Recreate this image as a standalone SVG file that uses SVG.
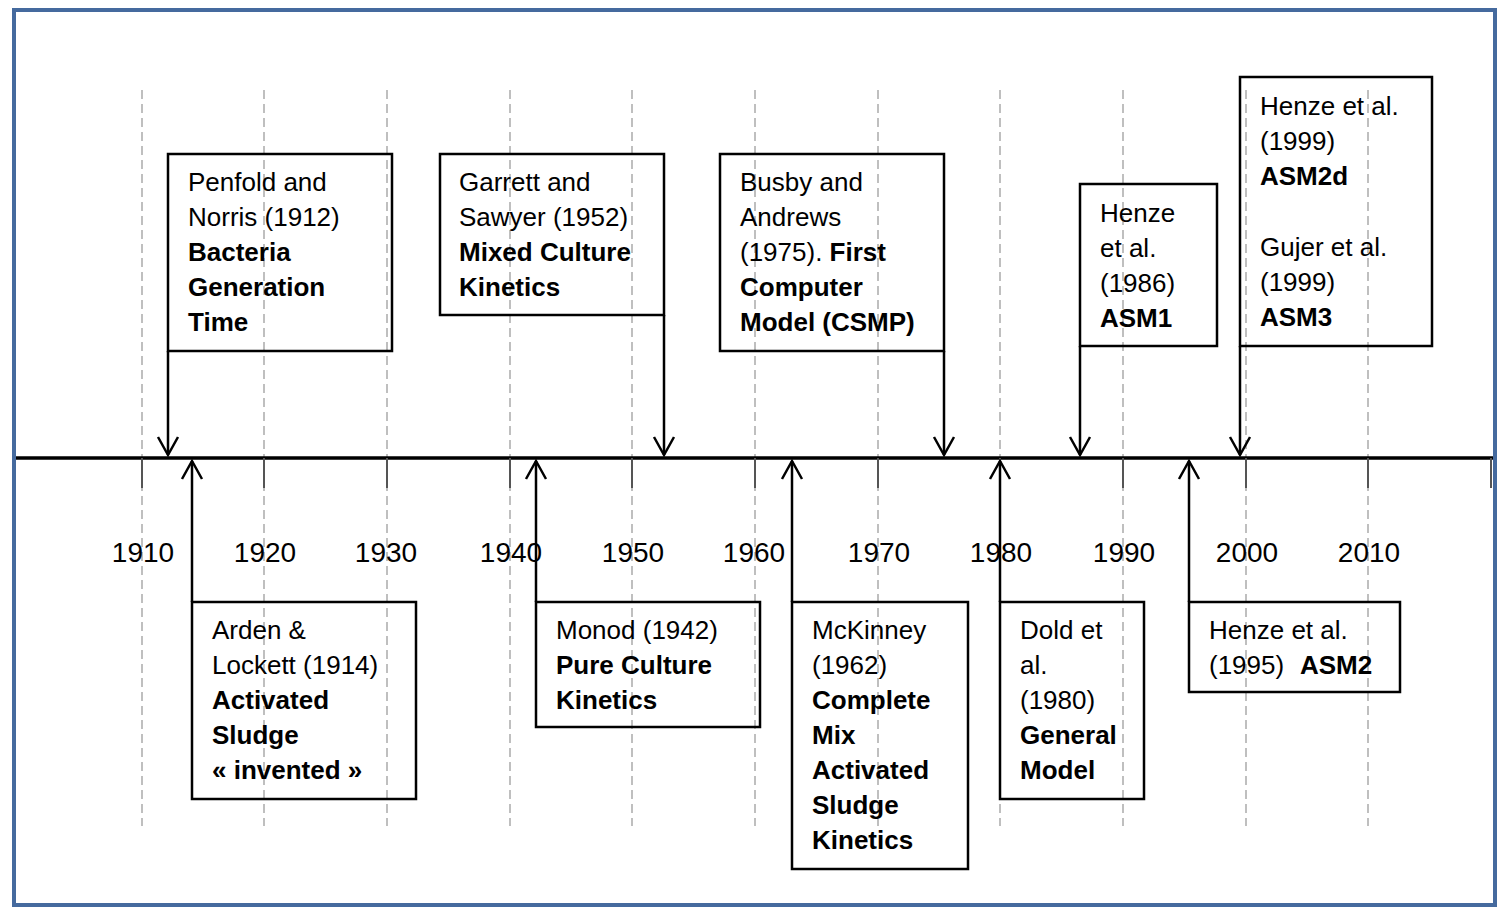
<svg xmlns="http://www.w3.org/2000/svg" width="1499" height="909" viewBox="0 0 1499 909">
<defs>
<style>
.grid{stroke:#bfbfbf;stroke-width:2;stroke-dasharray:9 5;fill:none}
.tick{stroke:#555;stroke-width:2;fill:none}
.box{fill:#fff;stroke:#000;stroke-width:2.5}
.conn{stroke:#000;stroke-width:2.5;fill:none}
.ah{stroke:#000;stroke-width:2.5;fill:none}
text{font-family:"Liberation Sans",Arial,sans-serif;font-size:26px;fill:#000}
.yr{font-size:28px;text-anchor:middle}
.b{font-weight:bold}
</style>
</defs>
<rect x="0" y="0" width="1499" height="909" fill="#fff"/>
<rect x="14" y="10" width="1481" height="895" fill="#fff" stroke="#456a9e" stroke-width="4"/>
<g id="grid">
<line class="grid" x1="142" y1="90" x2="142" y2="826"/>
<line class="grid" x1="264" y1="90" x2="264" y2="826"/>
<line class="grid" x1="387" y1="90" x2="387" y2="826"/>
<line class="grid" x1="510" y1="90" x2="510" y2="826"/>
<line class="grid" x1="632" y1="90" x2="632" y2="826"/>
<line class="grid" x1="755" y1="90" x2="755" y2="826"/>
<line class="grid" x1="878" y1="90" x2="878" y2="826"/>
<line class="grid" x1="1000" y1="90" x2="1000" y2="826"/>
<line class="grid" x1="1123" y1="90" x2="1123" y2="826"/>
<line class="grid" x1="1246" y1="90" x2="1246" y2="826"/>
<line class="grid" x1="1368" y1="90" x2="1368" y2="826"/>
</g>
<g id="axis">
<line x1="16" y1="458" x2="1493" y2="458" stroke="#000" stroke-width="3.5"/>
<line class="tick" x1="142" y1="458" x2="142" y2="488"/>
<line class="tick" x1="264" y1="458" x2="264" y2="488"/>
<line class="tick" x1="387" y1="458" x2="387" y2="488"/>
<line class="tick" x1="510" y1="458" x2="510" y2="488"/>
<line class="tick" x1="632" y1="458" x2="632" y2="488"/>
<line class="tick" x1="755" y1="458" x2="755" y2="488"/>
<line class="tick" x1="878" y1="458" x2="878" y2="488"/>
<line class="tick" x1="1000" y1="458" x2="1000" y2="488"/>
<line class="tick" x1="1123" y1="458" x2="1123" y2="488"/>
<line class="tick" x1="1246" y1="458" x2="1246" y2="488"/>
<line class="tick" x1="1368" y1="458" x2="1368" y2="488"/>
<line class="tick" x1="1491" y1="458" x2="1491" y2="488"/>
<text class="yr" x="143" y="562">1910</text>
<text class="yr" x="265" y="562">1920</text>
<text class="yr" x="386" y="562">1930</text>
<text class="yr" x="511" y="562">1940</text>
<text class="yr" x="633" y="562">1950</text>
<text class="yr" x="754" y="562">1960</text>
<text class="yr" x="879" y="562">1970</text>
<text class="yr" x="1001" y="562">1980</text>
<text class="yr" x="1124" y="562">1990</text>
<text class="yr" x="1247" y="562">2000</text>
<text class="yr" x="1369" y="562">2010</text>
</g>
<g id="connectors">
<line class="conn" x1="168" y1="351" x2="168" y2="455"/>
<polyline class="ah" points="158,437 168,455 178,437"/>
<line class="conn" x1="664" y1="315" x2="664" y2="455"/>
<polyline class="ah" points="654,437 664,455 674,437"/>
<line class="conn" x1="944" y1="351" x2="944" y2="455"/>
<polyline class="ah" points="934,437 944,455 954,437"/>
<line class="conn" x1="1080" y1="346" x2="1080" y2="455"/>
<polyline class="ah" points="1070,437 1080,455 1090,437"/>
<line class="conn" x1="1240" y1="346" x2="1240" y2="455"/>
<polyline class="ah" points="1230,437 1240,455 1250,437"/>
<line class="conn" x1="192" y1="602" x2="192" y2="461"/>
<polyline class="ah" points="182,479 192,461 202,479"/>
<line class="conn" x1="536" y1="602" x2="536" y2="461"/>
<polyline class="ah" points="526,479 536,461 546,479"/>
<line class="conn" x1="792" y1="602" x2="792" y2="461"/>
<polyline class="ah" points="782,479 792,461 802,479"/>
<line class="conn" x1="1000" y1="602" x2="1000" y2="461"/>
<polyline class="ah" points="990,479 1000,461 1010,479"/>
<line class="conn" x1="1189" y1="602" x2="1189" y2="461"/>
<polyline class="ah" points="1179,479 1189,461 1199,479"/>
</g>
<g id="penfold">
<rect class="box" x="168" y="154" width="224" height="197" fill-opacity="0"/>
<text x="188" y="191">Penfold and</text>
<text x="188" y="226">Norris (1912)</text>
<text x="188" y="261" class="b">Bacteria</text>
<text x="188" y="296" class="b">Generation</text>
<text x="188" y="331" class="b">Time</text>
</g>
<g id="garrett">
<rect class="box" x="440" y="154" width="224" height="161" fill-opacity="0"/>
<text x="459" y="191">Garrett and</text>
<text x="459" y="226">Sawyer (1952)</text>
<text x="459" y="261" class="b">Mixed Culture</text>
<text x="459" y="296" class="b">Kinetics</text>
</g>
<g id="busby">
<rect class="box" x="720" y="154" width="224" height="197" fill-opacity="0"/>
<text x="740" y="191">Busby and</text>
<text x="740" y="226">Andrews</text>
<text x="740" y="261">(1975). <tspan class="b">First</tspan></text>
<text x="740" y="296" class="b">Computer</text>
<text x="740" y="331" class="b">Model (CSMP)</text>
</g>
<g id="henze1986">
<rect class="box" x="1080" y="184" width="137" height="162" fill-opacity="0"/>
<text x="1100" y="222">Henze</text>
<text x="1100" y="257">et al.</text>
<text x="1100" y="292">(1986)</text>
<text x="1100" y="327" class="b">ASM1</text>
</g>
<g id="henze1999">
<rect class="box" x="1240" y="77" width="192" height="269" fill-opacity="0"/>
<text x="1260" y="115">Henze et al.</text>
<text x="1260" y="150">(1999)</text>
<text x="1260" y="185" class="b">ASM2d</text>
<text x="1260" y="256">Gujer et al.</text>
<text x="1260" y="291">(1999)</text>
<text x="1260" y="326" class="b">ASM3</text>
</g>
<g id="arden">
<rect class="box" x="192" y="602" width="224" height="197" fill-opacity="0"/>
<text x="212" y="639">Arden &amp;</text>
<text x="212" y="674">Lockett (1914)</text>
<text x="212" y="709" class="b">Activated</text>
<text x="212" y="744" class="b">Sludge</text>
<text x="212" y="779" class="b">« invented »</text>
</g>
<g id="monod">
<rect class="box" x="536" y="602" width="224" height="125" fill-opacity="0"/>
<text x="556" y="639">Monod (1942)</text>
<text x="556" y="674" class="b">Pure Culture</text>
<text x="556" y="709" class="b">Kinetics</text>
</g>
<g id="mckinney">
<rect class="box" x="792" y="602" width="176" height="267" fill-opacity="0"/>
<text x="812" y="639">McKinney</text>
<text x="812" y="674">(1962)</text>
<text x="812" y="709" class="b">Complete</text>
<text x="812" y="744" class="b">Mix</text>
<text x="812" y="779" class="b">Activated</text>
<text x="812" y="814" class="b">Sludge</text>
<text x="812" y="849" class="b">Kinetics</text>
</g>
<g id="dold">
<rect class="box" x="1000" y="602" width="144" height="197" fill-opacity="0"/>
<text x="1020" y="639">Dold et</text>
<text x="1020" y="674">al.</text>
<text x="1020" y="709">(1980)</text>
<text x="1020" y="744" class="b">General</text>
<text x="1020" y="779" class="b">Model</text>
</g>
<g id="henze1995">
<rect class="box" x="1189" y="602" width="211" height="90" fill-opacity="0"/>
<text x="1209" y="639">Henze et al.</text>
<text x="1209" y="674">(1995)<tspan class="b" x="1300">ASM2</tspan></text>
</g>
</svg>
